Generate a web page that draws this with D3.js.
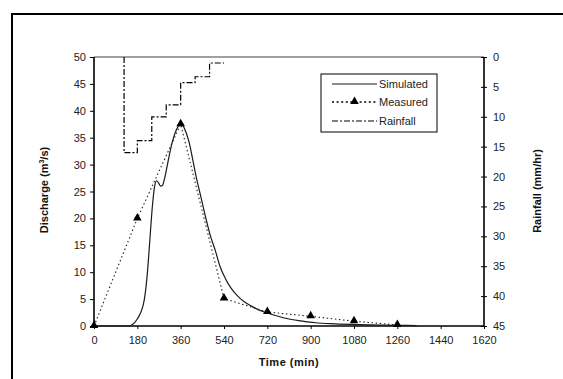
<!DOCTYPE html>
<html><head><meta charset="utf-8">
<script src="https://cdn.jsdelivr.net/npm/d3@7"></script>
<style>body{margin:0;background:#fff}svg text{font-family:"Liberation Sans",Arial,sans-serif}</style>
</head><body><svg id="c" width="563" height="379"></svg>
<script>
// ---- data ----
const xTicks = [0,180,360,540,720,900,1080,1260,1440,1620];
const qTicks = [0,5,10,15,20,25,30,35,40,45,50];
const rTicks = [0,5,10,15,20,25,30,35,40,45];
const simTime = [0,140,160,180,195,205,212,220,228,236,244,252,260,268,276,284,292,302,314,326,338,350,360,370,382,396,412,428,444,462,482,504,524,546,570,596,624,654,684,714,750,800,860,920,1000,1100,1200,1300,1340];
const simQ    = [0,0,0.3,1.3,2.6,4,5.8,9,13.5,18.5,23,26,27,26.6,26,26.1,27.2,29.3,32,34.3,36,37.1,37.5,37.2,36,34,30.5,27,24,20.5,17,14,11,8.8,7,5.6,4.5,3.7,3,2.5,2,1.4,0.95,0.6,0.4,0.25,0.15,0.1,0.08];
const measTime = [0,180,360,540,720,900,1080,1260];
const measQ    = [0,20,37.5,5.1,2.6,1.8,0.9,0.2];
const rainTime = [125,125,180,240,300,360,420,480,540];
const rainVal  = [0,16,14,10,8,4.3,3.3,1,1];

const svg = d3.select("#c");
const L=94, R=484, T=57, B=326;
const x = d3.scaleLinear().domain([0,1620]).range([L,R]);
const yQ = d3.scaleLinear().domain([0,50]).range([B,T]);
const yR = d3.scaleLinear().domain([0,45]).range([T,B]);

// outer frame
svg.append("rect").attr("x",12).attr("y",14).attr("width",620).attr("height",420)
  .attr("fill","none").attr("stroke","#000").attr("stroke-width",2);

// plot top border
svg.append("line").attr("x1",L).attr("x2",R).attr("y1",T).attr("y2",T).attr("stroke","#808080").attr("stroke-width",1.3);

const fs = "11px";
const fmt = d3.format("d");
const gl = svg.append("g").attr("transform",`translate(${L},0)`)
  .call(d3.axisLeft(yQ).tickValues(qTicks).tickFormat(fmt).tickSize(4).tickPadding(4));
const gr = svg.append("g").attr("transform",`translate(${R},0)`)
  .call(d3.axisRight(yR).tickValues(rTicks).tickFormat(fmt).tickSize(3).tickPadding(6));
gr.selectAll(".tick line").attr("x1",-3);
const gb = svg.append("g").attr("transform",`translate(0,${B})`)
  .call(d3.axisBottom(x).tickValues(xTicks).tickFormat(fmt).tickSize(3).tickPadding(7));
[gl,gr,gb].forEach(g=>{
  g.select(".domain").attr("stroke","#000").attr("stroke-width",1.6);
  g.selectAll(".tick line").attr("stroke","#000");
  g.selectAll("text").attr("font-size",fs).attr("fill","#222").attr("font-family","Liberation Sans, Arial, sans-serif");
});
gl.select(".domain").attr("d",`M0,${T}V${B}`);
gr.select(".domain").attr("d",`M0,${T}V${B}`);
gb.select(".domain").attr("d",`M${L},0H${R}`);

// rainfall
const rainPts = rainTime.map((t,i)=>[t,rainVal[i]]);
svg.append("path").datum(rainPts)
  .attr("d", d3.line().x(d=>x(d[0])).y(d=>yR(d[1])).curve(d3.curveStepAfter))
  .attr("fill","none").attr("stroke","#000").attr("stroke-width",1.2).attr("stroke-dasharray","6,2,2,2");

// simulated
const simPts = simTime.map((t,i)=>[t,simQ[i]]);
svg.append("path").datum(simPts)
  .attr("d", d3.line().x(d=>x(d[0])).y(d=>yQ(d[1])).curve(d3.curveMonotoneX))
  .attr("fill","none").attr("stroke","#1a1a1a").attr("stroke-width",1.2);

// measured
const measPts = measTime.map((t,i)=>[t,measQ[i]]);
svg.append("path").datum(measPts)
  .attr("d", d3.line().x(d=>x(d[0])).y(d=>yQ(d[1])))
  .attr("fill","none").attr("stroke","#222").attr("stroke-width",1.1).attr("stroke-dasharray","1.5,2.6");
const tri = d3.symbol().type(d3.symbolTriangle).size(32);
svg.selectAll(".m").data(measPts).enter().append("path")
  .attr("d",tri).attr("transform",d=>`translate(${x(d[0])},${yQ(d[1])-0.5})`).attr("fill","#000");

// axis titles
svg.append("text").attr("transform","translate(48,190) rotate(-90)").attr("text-anchor","middle")
  .attr("font-size","11px").attr("font-weight","bold").attr("fill","#111")
  .html('Discharge (m<tspan dy="-4" font-size="7px">3</tspan><tspan dy="4">/s)</tspan>');
svg.append("text").attr("transform","translate(541,191) rotate(-90)").attr("text-anchor","middle")
  .attr("font-size","11px").attr("font-weight","bold").attr("fill","#111").text("Rainfall (mm/hr)");
svg.append("text").attr("x",289).attr("y",366).attr("text-anchor","middle")
  .attr("font-size","11px").attr("font-weight","bold").attr("letter-spacing","0.5px").attr("fill","#111").text("Time (min)");

// legend
const lg = svg.append("g");
lg.append("rect").attr("x",321).attr("y",74).attr("width",116).attr("height",58)
  .attr("fill","#fff").attr("stroke","#000").attr("stroke-width",1);
const legend = [["Simulated",84],["Measured",102],["Rainfall",121]];
legend.forEach(([name,yy],i)=>{
  const ln = lg.append("line").attr("x1",332).attr("x2",377).attr("y1",yy).attr("y2",yy).attr("stroke","#000");
  if(i===0) ln.attr("stroke-width",1.2).attr("stroke","#1a1a1a");
  if(i===1){ ln.attr("stroke-width",1.6).attr("stroke-dasharray","2,2.6");
    lg.append("path").attr("d",tri).attr("transform",`translate(354.5,${yy-0.5})`).attr("fill","#000"); }
  if(i===2) ln.attr("stroke-width",1.2).attr("stroke-dasharray","6,2,2,2");
  lg.append("text").attr("x",379).attr("y",yy+4).attr("font-size","11px").attr("fill","#222").text(name);
});
</script></body></html>
